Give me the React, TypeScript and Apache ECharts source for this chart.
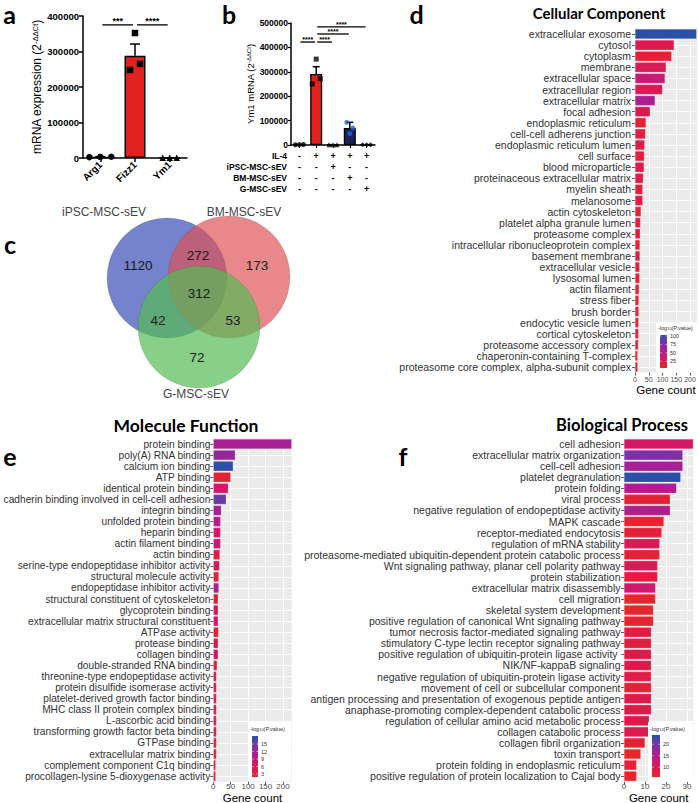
import React, { useEffect, useRef } from 'react';
import * as echarts from 'echarts';

const ARIAL = '"Liberation Sans", Arial, Helvetica, sans-serif';
const HEAD = 'Lato, "Open Sans", "Noto Sans", sans-serif';

// ---------- Panel a ----------
const aCategories = ['Arg1', 'Fizz1', 'Ym1'];
const aMeans = [3000, 288000, 600];
const aSems = [800, 33000, 200];
const aPoints = [
  [2500, 3000, 3500],
  [352000, 248000, 265000],
  [500, 600, 700],
];
const aBrackets = [
  [0, 375000, 1],
  [1, 375000, 2],
];
const aBracketLabels = ['***', '****'];

// ---------- Panel b ----------
const bCategories = ['Control', 'IL-4', 'IL-4 + iPSC-MSC-sEV', 'IL-4 + BM-MSC-sEV', 'IL-4 + G-MSC-sEV'];
const bMeans = [1500, 291000, 1000, 70000, 1000];
const bSems = [300, 30000, 300, 23000, 300];
const bPoints = [
  [1000, 1500, 2000],
  [352000, 250000, 272000],
  [800, 1000, 1200],
  [93000, 70000, 47000],
  [800, 1000, 1200],
];
const bRowLabels = ['IL-4', 'iPSC-MSC-sEV', 'BM-MSC-sEV', 'G-MSC-sEV'];
const bSigns = [
  ['-', '+', '+', '+', '+'],
  ['-', '-', '+', '-', '-'],
  ['-', '-', '-', '+', '-'],
  ['-', '-', '-', '-', '+'],
];
const bBrackets = [
  [0, 422000, 1],
  [1, 422000, 2],
  [1, 455000, 3],
  [1, 484000, 4],
];
const bBracketLabels = ['****', '****', '****', '****'];

// ---------- Panel c (Venn) ----------
const vennSets = ['iPSC-MSC-sEV', 'BM-MSC-sEV', 'G-MSC-sEV'];
const vennRegions = ['iPSC only', 'BM only', 'G only', 'iPSC & BM', 'iPSC & G', 'BM & G', 'all three'];
const vennCounts = [1120, 173, 72, 272, 42, 53, 312];

// ---------- Panel d ----------
const dNames = [
  'extracellular exosome', 'cytosol', 'cytoplasm', 'membrane', 'extracellular space',
  'extracellular region', 'extracellular matrix', 'focal adhesion', 'endoplasmic reticulum',
  'cell-cell adherens junction', 'endoplasmic reticulum lumen', 'cell surface', 'blood microparticle',
  'proteinaceous extracellular matrix', 'myelin sheath', 'melanosome', 'actin cytoskeleton',
  'platelet alpha granule lumen', 'proteasome complex', 'intracellular ribonucleoprotein complex',
  'basement membrane', 'extracellular vesicle', 'lysosomal lumen', 'actin filament', 'stress fiber',
  'brush border', 'endocytic vesicle lumen', 'cortical cytoskeleton', 'proteasome accessory complex',
  'chaperonin-containing T-complex', 'proteasome core complex, alpha-subunit complex',
];
const dCounts = [224, 142, 133, 113, 109, 100, 73, 55, 40, 38, 35, 34, 33, 30, 28, 28, 22, 20, 19, 18, 18, 17, 17, 15, 14, 14, 13, 13, 12, 10, 10];
const dLogP = [103, 25, 12, 28, 40, 27, 58, 25, 12, 18, 20, 14, 22, 20, 14, 18, 12, 15, 18, 10, 16, 12, 10, 10, 8, 8, 9, 8, 10, 9, 8];
const dLegendTicks = [25, 50, 75, 100];

// ---------- Panel e ----------
const eNames = [
  'protein binding', 'poly(A) RNA binding', 'calcium ion binding', 'ATP binding', 'identical protein binding',
  'cadherin binding involved in cell-cell adhesion', 'integrin binding', 'unfolded protein binding',
  'heparin binding', 'actin filament binding', 'actin binding', 'serine-type endopeptidase inhibitor activity',
  'structural molecule activity', 'endopeptidase inhibitor activity', 'structural constituent of cytoskeleton',
  'glycoprotein binding', 'extracellular matrix structural constituent', 'ATPase activity', 'protease binding',
  'collagen binding', 'double-stranded RNA binding', 'threonine-type endopeptidase activity',
  'protein disulfide isomerase activity', 'platelet-derived growth factor binding',
  'MHC class II protein complex binding', 'L-ascorbic acid binding', 'transforming growth factor beta binding',
  'GTPase binding', 'extracellular matrix binding', 'complement component C1q binding',
  'procollagen-lysine 5-dioxygenase activity',
];
const eCounts = [225, 63, 57, 50, 43, 37, 23, 21, 21, 21, 19, 18, 16, 16, 14, 14, 14, 15, 14, 14, 11, 9, 9, 9, 9, 9, 9, 9, 9, 7, 7];
const eLogP = [11, 12, 18, 3, 7, 15, 11, 9.5, 7, 8, 4, 6, 3, 10, 4, 6, 7, 3, 5, 6, 4, 5, 5, 5, 5, 5, 4, 3.5, 3.5, 3, 3];
const eLegendTicks = [3, 6, 9, 12, 15];

// ---------- Panel f ----------
const fNames = [
  'cell adhesion', 'extracellular matrix organization', 'cell-cell adhesion', 'platelet degranulation',
  'protein folding', 'viral process', 'negative regulation of endopeptidase activity', 'MAPK cascade',
  'receptor-mediated endocytosis', 'regulation of mRNA stability',
  'proteasome-mediated ubiquitin-dependent protein catabolic process',
  'Wnt signaling pathway, planar cell polarity pathway', 'protein stabilization',
  'extracellular matrix disassembly', 'cell migration', 'skeletal system development',
  'positive regulation of canonical Wnt signaling pathway', 'tumor necrosis factor-mediated signaling pathway',
  'stimulatory C-type lectin receptor signaling pathway', 'positive regulation of ubiquitin-protein ligase activity ',
  'NIK/NF-kappaB signaling', 'negative regulation of ubiquitin-protein ligase activity',
  'movement of cell or subcellular component', 'antigen processing and presentation of exogenous peptide antigen',
  'anaphase-promoting complex-dependent catabolic process', 'regulation of cellular amino acid metabolic process',
  'collagen catabolic process', 'collagen fibril organization', 'toxin transport',
  'protein folding in endoplasmic reticulum', 'positive regulation of protein localization to Cajal body',
];
const fCounts = [33, 28, 28, 27, 25, 22, 22, 19, 18, 17, 17, 16, 16, 15, 15, 14, 14, 13, 13, 13, 13, 13, 13, 13, 13, 12, 12, 10, 8, 6, 6];
const fLogP = [11, 19, 16, 24, 15, 7, 15, 6.5, 7.5, 10, 7, 10, 8, 12, 6, 6, 6.5, 8, 8, 9, 9, 8.5, 7, 9, 9, 9, 9.5, 7, 6, 7, 6];
const fLegendTicks = [10, 15, 20];

const PALETTE = ['#e8262a', '#dc1a4e', '#c8187c', '#a0229a', '#6a3aa6', '#2c50a8'];

// ---------- layout (styles/positions only) ----------
const aOffsets = [[-11, 0, 11], [0, -5, 5], [-7, 0, 7]];
const aSymbols = ['circle', 'rect', 'triangle'];
const bOffsets = [[-4, 0, 4], [0, -4, 4], [-4, 0, 4], [-3, 3, 0], [-4, 0, 4]];
const bSymbols = ['circle', 'rect', 'triangle', 'circle', 'diamond'];
const bBarColors = ['#111', '#e0211d', '#111', '#1b2456', '#111'];
const bPointColors = ['#000', '#000', '#000', '#2b5fd9', '#000'];
const vennCircles = [
  { cx: 167, cy: 278, r: 60, fill: 'rgba(64,82,184,0.72)' },
  { cx: 229, cy: 277, r: 61, fill: 'rgba(222,80,84,0.68)' },
  { cx: 199, cy: 327, r: 61, fill: 'rgba(86,186,86,0.70)' },
];
const vennSetPos = [[104, 212], [244, 212], [196, 394]];
const vennCountPos = [[138, 265], [257, 265], [197, 357], [198, 255], [158, 320], [233, 320], [199, 293]];

function errRender(cap: number) {
  return (params: any, api: any) => {
    const x = api.value(0);
    const m = api.value(1);
    const s = api.value(2);
    const p0 = api.coord([x, m]);
    const p1 = api.coord([x, m + s]);
    const st = { stroke: '#000', lineWidth: 1.5 };
    return {
      type: 'group',
      children: [
        { type: 'line', shape: { x1: p0[0], y1: p0[1], x2: p1[0], y2: p1[1] }, style: st },
        { type: 'line', shape: { x1: p1[0] - cap, y1: p1[1], x2: p1[0] + cap, y2: p1[1] }, style: st },
      ],
    };
  };
}

function bracketRender(labels: string[], fontSize: number, shrink: number) {
  return (params: any, api: any) => {
    const i0 = api.value(0);
    const y = api.value(1);
    const i1 = api.value(2);
    const p0 = api.coord([i0, y]);
    const p1 = api.coord([i1, y]);
    return {
      type: 'group',
      children: [
        {
          type: 'line',
          shape: { x1: p0[0] + shrink, y1: p0[1], x2: p1[0] - shrink, y2: p1[1] },
          style: { stroke: '#000', lineWidth: 1.3 },
        },
        {
          type: 'text',
          x: (p0[0] + p1[0]) / 2,
          y: p0[1] + 1,
          style: {
            text: labels[params.dataIndex],
            font: `bold ${fontSize}px ${ARIAL}`,
            fill: '#000',
            align: 'center',
            verticalAlign: 'bottom',
            textAlign: 'center',
            textVerticalAlign: 'bottom',
          },
        },
      ],
    };
  };
}

function txt(text: string, x: number, y: number, font: string, fill = '#000', align = 'center', vAlign = 'middle', extra: any = {}) {
  return {
    type: 'text',
    x,
    y,
    z: 60,
    style: { text, font, fill, align, verticalAlign: vAlign, textAlign: align, textVerticalAlign: vAlign, ...extra },
  };
}

function colorLegend(box: number[], bar: number[], min: number, max: number, ticks: number[], titleY: number) {
  const els: any[] = [];
  els.push({ type: 'rect', z: 55, shape: { x: box[0], y: box[1], width: box[2], height: box[3] }, style: { fill: '#fff' } });
  els.push({
    type: 'text',
    z: 56,
    x: bar[0] - 2,
    y: titleY,
    style: {
      text: '{m|-log}{s|10}{m|(P.value)}',
      fill: '#333',
      align: 'left',
      verticalAlign: 'middle',
      textAlign: 'left',
      textVerticalAlign: 'middle',
      rich: {
        m: { fontSize: 5.5, fontFamily: ARIAL, fill: '#333', color: '#333' },
        s: { fontSize: 4, fontFamily: ARIAL, fill: '#333', color: '#333', verticalAlign: 'bottom' },
      },
    },
  });
  const stops = PALETTE.slice().reverse().map((c, i, arr) => ({ offset: i / (arr.length - 1), color: c }));
  els.push({
    type: 'rect',
    z: 56,
    shape: { x: bar[0], y: bar[1], width: bar[2], height: bar[3] },
    style: { fill: new echarts.graphic.LinearGradient(0, 0, 0, 1, stops) },
  });
  ticks.forEach((t) => {
    const ty = bar[1] + bar[3] - ((t - min) / (max - min)) * bar[3];
    els.push({ type: 'line', z: 57, shape: { x1: bar[0], y1: ty, x2: bar[0] + 1.5, y2: ty }, style: { stroke: '#fff', lineWidth: 0.6 } });
    els.push({ type: 'line', z: 57, shape: { x1: bar[0] + bar[2] - 1.5, y1: ty, x2: bar[0] + bar[2], y2: ty }, style: { stroke: '#fff', lineWidth: 0.6 } });
    els.push(txt(String(t), bar[0] + bar[2] + 3, ty, `5.5px ${ARIAL}`, '#333', 'left'));
  });
  return els;
}

function goYAxis(gridIndex: number, names: string[], fontSize: number, margin: number) {
  return {
    type: 'category',
    gridIndex,
    data: names,
    inverse: true,
    axisLine: { show: false },
    axisTick: { show: true, alignWithLabel: true, length: 3, lineStyle: { color: '#333', width: 0.8 } },
    axisLabel: { fontSize, color: '#333', margin, fontFamily: ARIAL, interval: 0 },
    splitLine: { show: true, alignWithLabel: true, lineStyle: { color: '#fff', width: 1 } },
  };
}

function goXAxis(gridIndex: number, max: number, interval: number, labelVals: number[], nameGap: number, labelMargin: number, labelSize: number) {
  return {
    type: 'value',
    gridIndex,
    min: 0,
    max,
    interval,
    axisLine: { show: false },
    axisTick: { show: true, length: 3, lineStyle: { color: '#333', width: 0.8 }, customValues: labelVals },
    axisLabel: {
      fontSize: labelSize,
      color: '#4d4d4d',
      margin: labelMargin,
      fontFamily: ARIAL,
      customValues: labelVals,
      hideOverlap: false,
      formatter: (v: number) => (labelVals.indexOf(v) >= 0 ? String(v) : ''),
    },
    splitLine: { show: true, lineStyle: { color: '#fff', width: 0.9 } },
    name: 'Gene count',
    nameLocation: 'middle',
    nameGap,
    nameTextStyle: { fontSize: 11.5, color: '#000', fontFamily: ARIAL },
  };
}

function goSeries(idx: number, counts: number[], logp: number[]) {
  return {
    type: 'bar',
    xAxisIndex: idx,
    yAxisIndex: idx,
    data: counts.map((c, i) => [c, i, logp[i]]),
    encode: { x: 0, y: 1 },
    barWidth: '90%',
    silent: true,
    itemStyle: { borderColor: 'rgba(255,255,255,0.5)', borderWidth: 0.4 },
  };
}

export default function App() {
  const ref = useRef<HTMLDivElement>(null);

  useEffect(() => {
    document.body.style.margin = '0';
    if (!ref.current) return;
    const chart = echarts.init(ref.current, undefined, { renderer: 'svg' });

    const axisBlack = { lineStyle: { color: '#000', width: 1.5 } };
    const supRich = (size: number, sub: number) => ({
      m: { fontSize: size, fontFamily: ARIAL, color: '#000' },
      s: { fontSize: sub, fontFamily: ARIAL, color: '#000', verticalAlign: 'top' },
    });
    const plain = (v: number) => String(v);

    const graphics: any[] = [];
    [['a', 9.5, 1], ['b', 229, 1], ['d', 416.5, 1]].forEach((p: any) => {
      graphics.push(txt(p[0], p[1], p[2], `bold 25px ${HEAD}`, '#000', 'center', 'top'));
    });
    [['c', 10, 244], ['e', 10, 456], ['f', 403, 456]].forEach((p: any) => {
      graphics.push(txt(p[0], p[1], p[2], `bold 25px ${HEAD}`));
    });
    graphics.push(txt('Cellular Component', 599, 13, `bold 15px ${HEAD}`));
    graphics.push(txt('Molecule Function', 186, 425, `bold 17.5px ${HEAD}`));
    graphics.push(txt('Biological Process', 622, 425, `bold 16.5px ${HEAD}`));
    bRowLabels.forEach((l, i) => {
      graphics.push(txt(l, 287, 155.5 + i * 11, `bold 8.5px ${ARIAL}`, '#000', 'right'));
    });
    vennCircles.forEach((c) => {
      graphics.push({ type: 'circle', z: 40, shape: { cx: c.cx, cy: c.cy, r: c.r }, style: { fill: c.fill, stroke: 'rgba(60,60,60,0.25)', lineWidth: 0.6 } });
    });
    vennSets.forEach((s, i) => {
      graphics.push(txt(s, vennSetPos[i][0], vennSetPos[i][1], `12px ${ARIAL}`, '#444'));
    });
    vennCounts.forEach((n, i) => {
      graphics.push(txt(String(n), vennCountPos[i][0], vennCountPos[i][1], `13.5px ${ARIAL}`, '#1a1a1a'));
    });
    graphics.push(...colorLegend([656, 323, 41, 50], [660, 335, 7, 33], 5, 103, dLegendTicks, 327.5));
    graphics.push(...colorLegend([248, 722, 43, 59], [252, 736, 6, 41], 1.8, 18.2, eLegendTicks, 728.5));
    graphics.push(...colorLegend([648, 722, 45, 60], [652, 735, 8, 42], 5.7, 24, fLegendTicks, 728.5));

    const option: any = {
      animation: false,
      backgroundColor: '#fff',
      grid: [
        { left: 83, top: 16, width: 104, height: 142, outerBoundsMode: 'none' },
        { left: 291, top: 23, width: 84, height: 122, outerBoundsMode: 'none' },
        { left: 635, top: 28.45, width: 61.9, height: 344.1, show: true, backgroundColor: '#ebebeb', borderWidth: 0, outerBoundsMode: 'none' },
        { left: 213.3, top: 438.5, width: 78.4, height: 343.2, show: true, backgroundColor: '#ebebeb', borderWidth: 0, outerBoundsMode: 'none' },
        { left: 624, top: 438.5, width: 69.3, height: 343.2, show: true, backgroundColor: '#ebebeb', borderWidth: 0, outerBoundsMode: 'none' },
      ],
      xAxis: [
        {
          type: 'category',
          gridIndex: 0,
          data: aCategories,
          axisLine: axisBlack,
          axisTick: { show: true, alignWithLabel: true, length: 4, lineStyle: { color: '#000', width: 1.5 } },
          axisLabel: { rotate: 45, fontSize: 10, fontWeight: 'bold', color: '#000', fontFamily: ARIAL, margin: 5, interval: 0 },
        },
        {
          type: 'category',
          gridIndex: 1,
          data: bCategories,
          axisLine: axisBlack,
          axisTick: { show: true, alignWithLabel: true, length: 3, lineStyle: { color: '#000', width: 1.2 } },
          axisLabel: {
            interval: 0,
            fontSize: 9,
            fontWeight: 'bold',
            color: '#000',
            fontFamily: ARIAL,
            lineHeight: 11,
            margin: 5,
            formatter: (_v: string, idx: number) => bSigns.map((r) => r[idx]).join('\n'),
          },
        },
        goXAxis(2, 225, 25, [0, 50, 100, 150, 200], 11, 3, 7),
        goXAxis(3, 225, 25, [0, 50, 100, 150, 200], 8, 1, 8),
        goXAxis(4, 33, 5, [0, 10, 20, 30], 8, 1, 8),
      ],
      yAxis: [
        {
          type: 'value',
          gridIndex: 0,
          min: 0,
          max: 400000,
          interval: 100000,
          axisLine: { show: true, ...axisBlack },
          axisTick: { show: true, length: 4, lineStyle: { color: '#000', width: 1.5 } },
          axisLabel: { fontSize: 9.5, fontWeight: 'bold', color: '#000', fontFamily: ARIAL, margin: 4, formatter: plain },
          splitLine: { show: false },
          name: '{m|mRNA expression (2}{s|-ΔΔCt}{m|)}',
          nameLocation: 'middle',
          nameGap: 37,
          nameTextStyle: { rich: supRich(12, 7.5) },
        },
        {
          type: 'value',
          gridIndex: 1,
          min: 0,
          max: 500000,
          interval: 100000,
          axisLine: { show: true, ...axisBlack },
          axisTick: { show: true, length: 3, lineStyle: { color: '#000', width: 1.2 } },
          axisLabel: { fontSize: 8.5, fontWeight: 'bold', color: '#000', fontFamily: ARIAL, margin: 3, formatter: plain },
          splitLine: { show: false },
          name: '{m|Ym1 mRNA (2}{s|-ΔΔCt}{m|)}',
          nameLocation: 'middle',
          nameGap: 33,
          nameTextStyle: { rich: supRich(9.5, 6) },
        },
        goYAxis(2, dNames, 10.5, 4),
        goYAxis(3, eNames, 10.2, 3),
        goYAxis(4, fNames, 10.5, 3.5),
      ],
      visualMap: [
        { type: 'continuous', show: false, seriesIndex: 8, dimension: 2, min: 5, max: 103, inRange: { color: PALETTE } },
        { type: 'continuous', show: false, seriesIndex: 9, dimension: 2, min: 1.8, max: 18.2, inRange: { color: PALETTE } },
        { type: 'continuous', show: false, seriesIndex: 10, dimension: 2, min: 5.7, max: 24, inRange: { color: PALETTE } },
      ],
      series: [
        {
          type: 'bar',
          xAxisIndex: 0,
          yAxisIndex: 0,
          data: aMeans,
          barWidth: 21,
          itemStyle: { color: '#e0211d', borderColor: '#000', borderWidth: 1.5 },
          silent: true,
        },
        {
          type: 'custom',
          xAxisIndex: 0,
          yAxisIndex: 0,
          data: aMeans.map((m, i) => [i, m, aSems[i]]),
          encode: { x: 0, y: 1 },
          renderItem: errRender(5),
          z: 5,
          silent: true,
        },
        {
          type: 'scatter',
          xAxisIndex: 0,
          yAxisIndex: 0,
          z: 6,
          silent: true,
          data: aPoints.flatMap((pts, i) =>
            pts.map((v, j) => ({ value: [i, v], symbol: aSymbols[i], symbolOffset: [aOffsets[i][j], 0] })),
          ),
          symbolSize: 6.5,
          itemStyle: { color: '#000', opacity: 1 },
        },
        {
          type: 'custom',
          xAxisIndex: 0,
          yAxisIndex: 0,
          data: aBrackets,
          encode: { x: 0, y: 1 },
          renderItem: bracketRender(aBracketLabels, 9, 2),
          silent: true,
        },
        {
          type: 'bar',
          xAxisIndex: 1,
          yAxisIndex: 1,
          data: bMeans.map((m, i) => ({ value: m, itemStyle: { color: bBarColors[i] } })),
          barWidth: 12,
          itemStyle: { borderColor: '#000', borderWidth: 1.3 },
          silent: true,
        },
        {
          type: 'custom',
          xAxisIndex: 1,
          yAxisIndex: 1,
          data: bMeans.map((m, i) => [i, m, bSems[i]]),
          encode: { x: 0, y: 1 },
          renderItem: errRender(3.5),
          z: 5,
          silent: true,
        },
        {
          type: 'scatter',
          xAxisIndex: 1,
          yAxisIndex: 1,
          z: 6,
          silent: true,
          data: bPoints.flatMap((pts, i) =>
            pts.map((v, j) => ({
              value: [i, v],
              symbol: bSymbols[i],
              symbolOffset: [bOffsets[i][j], 0],
              itemStyle: { color: bPointColors[i] },
            })),
          ),
          symbolSize: 5,
        },
        {
          type: 'custom',
          xAxisIndex: 1,
          yAxisIndex: 1,
          data: bBrackets,
          encode: { x: 0, y: 1 },
          renderItem: bracketRender(bBracketLabels, 7, 1),
          silent: true,
        },
        goSeries(2, dCounts, dLogP),
        goSeries(3, eCounts, eLogP),
        goSeries(4, fCounts, fLogP),
      ],
      graphic: { elements: graphics },
    };

    chart.setOption(option);
    return () => {
      chart.dispose();
    };
  }, []);

  return (
    <div
      ref={ref}
      style={{ width: 698, height: 803, position: 'absolute', left: 0, top: 0, background: '#fff' }}
      data-regions={vennRegions.join(',')}
    />
  );
}
